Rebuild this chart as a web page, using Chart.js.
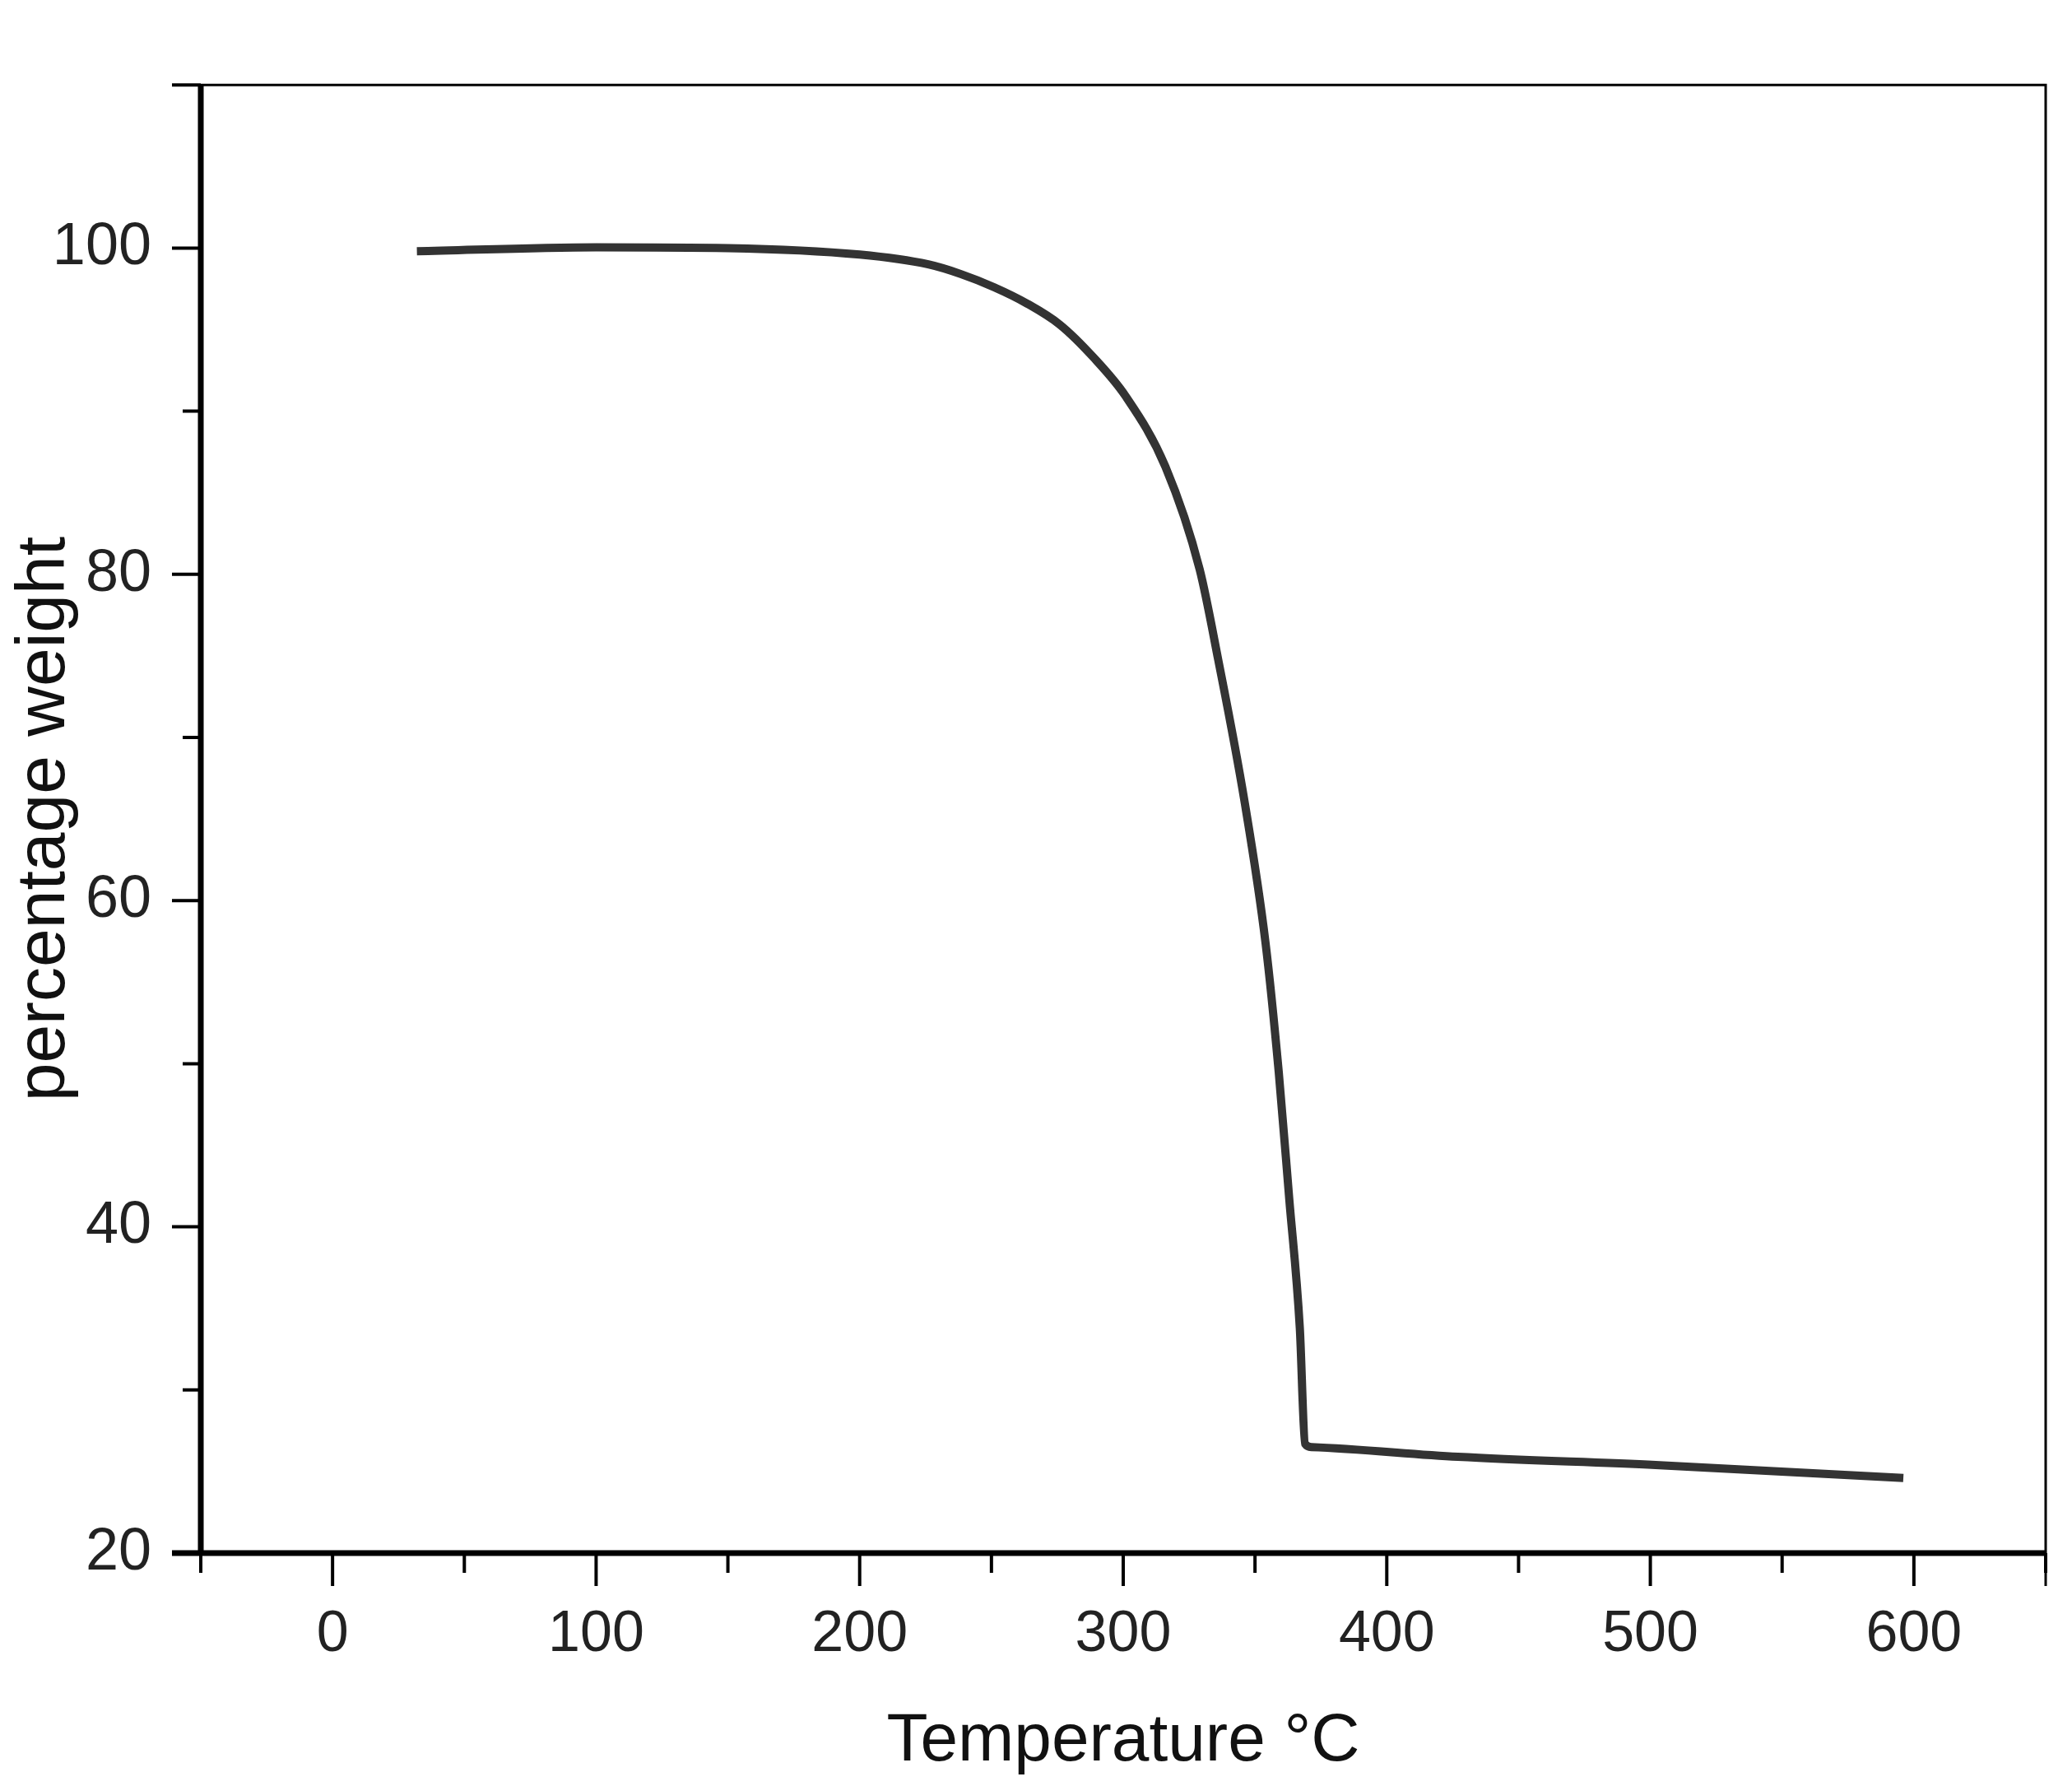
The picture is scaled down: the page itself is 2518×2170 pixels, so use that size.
<!DOCTYPE html>
<html><head><meta charset="utf-8">
<script src="https://cdn.jsdelivr.net/npm/chart.js@4/dist/chart.umd.min.js"></script>
<style>html,body{margin:0;padding:0;background:#fff}#w{width:2518px;height:2170px}</style>
</head><body><div id="w"><canvas id="c"></canvas></div>
<script>
const temperature = [32, 100, 150, 200, 226, 238.5, 251, 263.5, 276, 288.7, 301, 316, 329, 336, 346, 354, 359, 363, 367, 369, 371.5, 427, 502, 596];
const weight = [99.8, 100.05, 100, 99.6, 99.0, 98.4, 97.6, 96.6, 95.3, 93.3, 90.9, 86.6, 80.3, 74.8, 66.1, 57.4, 49.5, 41.7, 33.8, 26.7, 26.5, 25.9, 25.4, 24.6];
const xTickValues = [0, 100, 200, 300, 400, 500, 600];
const xMinorValues = [-50, 50, 150, 250, 350, 450, 550, 650];
const yTickValues = [20, 40, 60, 80, 100];
const yMinorValues = [30, 50, 70, 90];

const font = "'Liberation Sans', Arial, sans-serif";
const tickPlugin = {
  id: 'ticks',
  afterDraw(chart) {
    const {ctx, chartArea: a, scales: {x, y}} = chart;
    ctx.save();
    ctx.strokeStyle = '#000';
    ctx.lineWidth = 3;
    ctx.beginPath();
    ctx.moveTo(a.left, a.top); ctx.lineTo(a.right, a.top); ctx.lineTo(a.right, a.bottom + 40);
    ctx.stroke();
    ctx.lineWidth = 7;
    ctx.beginPath();
    ctx.moveTo(a.left, a.top); ctx.lineTo(a.left, a.bottom);
    ctx.moveTo(a.left - 35, a.bottom); ctx.lineTo(a.right, a.bottom);
    ctx.stroke();
    ctx.lineWidth = 4;
    ctx.beginPath();
    ctx.moveTo(a.left - 35, a.top); ctx.lineTo(a.left, a.top);
    xTickValues.forEach(v => { const p = x.getPixelForValue(v); ctx.moveTo(p, a.bottom); ctx.lineTo(p, a.bottom + 40); });
    xMinorValues.forEach(v => { const p = x.getPixelForValue(v); ctx.moveTo(p, a.bottom); ctx.lineTo(p, a.bottom + 24); });
    yTickValues.forEach(v => { const p = y.getPixelForValue(v); ctx.moveTo(a.left - 35, p); ctx.lineTo(a.left, p); });
    yMinorValues.forEach(v => { const p = y.getPixelForValue(v); ctx.moveTo(a.left - 22, p); ctx.lineTo(a.left, p); });
    ctx.stroke();
    ctx.restore();
  }
};

new Chart(document.getElementById('c'), {
  type: 'line',
  data: { datasets: [{
    data: temperature.map((t, i) => ({x: t, y: weight[i]})),
    borderColor: '#333333', borderWidth: 10, pointRadius: 0, cubicInterpolationMode: 'monotone', fill: false
  }]},
  options: {
    responsive: true, maintainAspectRatio: false, animation: false,
    layout: { padding: { top: 12, right: 32, left: 0, bottom: 0 } },
    plugins: { legend: { display: false }, tooltip: { enabled: false } },
    scales: {
      x: {
        type: 'linear', min: -50, max: 650,
        afterBuildTicks: s => { s.ticks = xTickValues.map(v => ({value: v})); },
        afterFit: s => { s.height = 283; },
        grid: { display: false, drawTicks: false }, border: { display: false },
        ticks: { padding: 58, color: '#222', font: { family: font, size: 70 } },
        title: { display: true, text: 'Temperature °C', color: '#111', font: { family: font, size: 82 }, padding: { top: 14 } }
      },
      y: {
        type: 'linear', min: 20, max: 110,
        afterBuildTicks: s => { s.ticks = yTickValues.map(v => ({value: v})); },
        afterFit: s => { s.width = 244; },
        grid: { display: false, drawTicks: false }, border: { display: false },
        ticks: { padding: 60, color: '#222', font: { family: font, size: 72 } },
        title: { display: true, text: 'percentage weight', color: '#111', font: { family: font, size: 84 }, padding: { bottom: 4 } }
      }
    }
  },
  plugins: [tickPlugin]
});
</script></body></html>
